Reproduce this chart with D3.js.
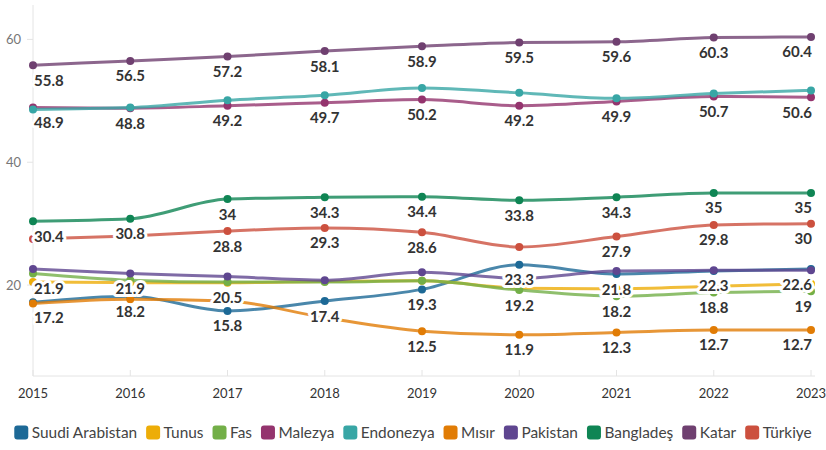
<!DOCTYPE html>
<meta charset="utf-8">
<style>
body { margin: 0; background: #fff; }
svg { display: block; font-family: Lato, "Noto Sans", sans-serif; }
.axis-line { stroke: #e4e4e4; stroke-width: 1; }
.ytick text { fill: #777; font-size: 13px; }
.xtick text { fill: #333; font-size: 13px; }
.series path { fill: none; stroke-width: 3; stroke-opacity: 0.8; }
.vlabel { font-size: 15px; font-weight: 700; fill: #333; stroke: #fff; stroke-width: 6; stroke-linejoin: round; paint-order: stroke; }
.legend text { fill: #444; font-size: 15.4px; }
</style>
<body>
<script src="https://d3js.org/d3.v7.min.js"></script>
<script>

var width = 826,
    height = 450;

// data
var years = [2015, 2016, 2017, 2018, 2019, 2020, 2021, 2022, 2023];
var countries = ["Suudi Arabistan", "Tunus", "Fas", "Malezya", "Endonezya", "Mısır", "Pakistan", "Bangladeş", "Katar", "Türkiye"];

var suudiArabistan = [17.2, 18.2, 15.8, 17.4, 19.3, 23.3, 21.8, 22.3, 22.6];
var tunus          = [20.5, 20.4, 20.4, 20.6, 20.7, 19.5, 19.4, 19.8, 20.2];
var fas            = [21.9, 20.8, 20.5, 20.5, 20.7, 19.2, 18.2, 18.8, 19];
var malezya        = [48.9, 48.8, 49.2, 49.7, 50.2, 49.2, 49.9, 50.7, 50.6];
var endonezya      = [48.6, 48.9, 50.1, 50.9, 52.1, 51.3, 50.4, 51.2, 51.7];
var misir          = [17.0, 17.7, 17.4, 14.7, 12.5, 11.9, 12.3, 12.7, 12.7];
var pakistan       = [22.6, 21.9, 21.4, 20.8, 22.1, 21.1, 22.3, 22.4, 22.4];
var banglades      = [30.4, 30.8, 34, 34.3, 34.4, 33.8, 34.3, 35, 35];
var katar          = [55.8, 56.5, 57.2, 58.1, 58.9, 59.5, 59.6, 60.3, 60.4];
var turkiye        = [27.5, 28.0, 28.8, 29.3, 28.6, 26.2, 27.9, 29.8, 30];

var yTicks = [20, 40, 60];

// which points carry a value label (the others were hidden to avoid overlap)
var all = [0, 1, 2, 3, 4, 5, 6, 7, 8];
var labelled = [all, [], [0, 2, 5, 6, 7, 8], all, [], [4, 5, 6, 7, 8], [1], all, all, [2, 3, 4, 6, 7, 8]];

var colors = ["#1D6996", "#EDAD08", "#73AF48", "#94346E", "#38A6A5", "#E17C05", "#5F4690", "#0F8554", "#6F4070", "#CC503E"];

var values = [suudiArabistan, tunus, fas, malezya, endonezya, misir, pakistan, banglades, katar, turkiye];
var series = countries.map(function(name, i) {
  return {
    name: name,
    color: colors[i],
    labels: labelled[i],
    points: years.map(function(y, j) { return {year: y, value: values[i][j]}; })
  };
});

var m = {left: 33, right: 811, top: 5, bottom: 376};

var x = d3.scaleLinear().domain([2015, 2023]).range([m.left, m.right]);
var y = d3.scaleLinear().domain([5.2, 65.6]).range([m.bottom, m.top]);

var svg = d3.select("body").append("svg")
    .attr("width", width)
    .attr("height", height);

// axes
svg.append("line").attr("class", "axis-line")
    .attr("x1", m.left).attr("x2", m.left).attr("y1", m.top).attr("y2", m.bottom);
svg.append("line").attr("class", "axis-line")
    .attr("x1", m.left).attr("x2", m.right + 4).attr("y1", m.bottom).attr("y2", m.bottom);

var yt = svg.selectAll("g.ytick").data(yTicks).enter().append("g")
    .attr("class", "ytick")
    .attr("transform", function(d) { return "translate(0," + y(d) + ")"; });
yt.append("line").attr("class", "axis-line").attr("x1", m.left - 6).attr("x2", m.left);
yt.append("text").attr("x", m.left - 12).attr("dy", "0.35em").attr("text-anchor", "end")
    .text(function(d) { return d; });

var xt = svg.selectAll("g.xtick").data(years).enter().append("g")
    .attr("class", "xtick")
    .attr("transform", function(d) { return "translate(" + x(d) + ",0)"; });
xt.append("line").attr("class", "axis-line").attr("y1", m.bottom - 6).attr("y2", m.bottom);
xt.append("text").attr("y", m.bottom + 22).attr("text-anchor", "middle")
    .text(function(d) { return d; });

// lines + points
var line = d3.line()
    .x(function(d) { return x(d.year); })
    .y(function(d) { return y(d.value); })
    .curve(d3.curveMonotoneX);

var g = svg.selectAll("g.series").data(series).enter().append("g")
    .attr("class", "series");

g.append("path")
    .attr("d", function(d) { return line(d.points); })
    .style("stroke", function(d) { return d.color; });

g.selectAll("circle")
    .data(function(d) { return d.points.map(function(p) { return {p: p, color: d.color}; }); })
    .enter().append("circle")
    .attr("cx", function(d) { return x(d.p.year); })
    .attr("cy", function(d) { return y(d.p.value); })
    .attr("r", 4)
    .style("fill", function(d) { return d.color; });

// value labels, on top of everything
var labelData = [];
series.forEach(function(s) {
  s.labels.forEach(function(j) { labelData.push(s.points[j]); });
});

svg.append("g").selectAll("text")
    .data(labelData)
    .enter().append("text")
    .attr("class", "vlabel")
    .attr("y", function(d) { return y(d.value) + 20.5; })
    .text(function(d) { return d.value; })
    .each(function(d) {
      var w = this.getComputedTextLength();
      var cx = x(d.year);
      var lx = Math.max(m.left + 1, Math.min(m.right + 1 - w, cx - w / 2));
      d3.select(this).attr("x", lx);
    });

// legend
var legend = svg.append("g").attr("class", "legend");
var items = legend.selectAll("g").data(series).enter().append("g");
items.append("rect")
    .attr("width", 14).attr("height", 14).attr("rx", 3).attr("y", -7)
    .style("fill", function(d) { return d.color; });
items.append("text")
    .attr("x", 17.5).attr("dy", "0.35em")
    .text(function(d) { return d.name; });

var pos = 0;
items.each(function() {
  var w = d3.select(this).select("text").node().getComputedTextLength();
  d3.select(this).attr("transform", "translate(" + pos + ",0)");
  pos += 17.5 + w + 9;
});
var total = pos - 9;
legend.attr("transform", "translate(" + (width / 2 - total / 2) + ",432.5)");

</script>
